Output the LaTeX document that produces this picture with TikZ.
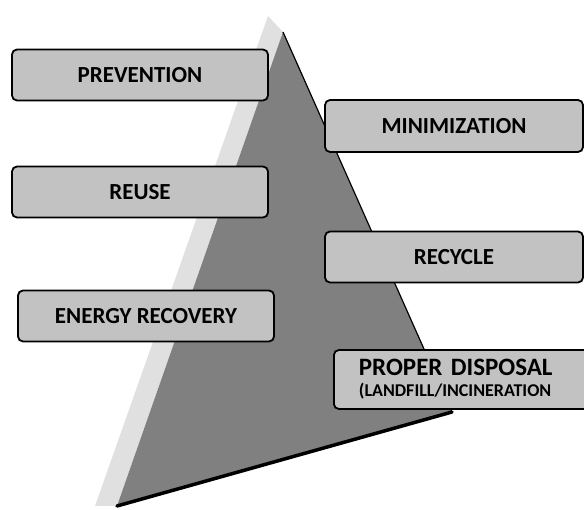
\documentclass[tikz,border=0pt]{standalone}
\usepackage{fontspec}
\setmainfont{Carlito}
\tikzset{
  stage/.style={draw=black, line width=1.8pt, rounded corners=5pt, fill=black!24,
    minimum width=256pt, minimum height=51pt, inner sep=0pt,
    font=\fontsize{23}{26}\selectfont\bfseries},
  face/.style={fill=black!50, draw=none}
}
\begin{document}
\begin{tikzpicture}[x=1pt,y=-1pt]
  \useasboundingbox (0,0) rectangle (584,510);
  % pyramid
  \fill[black!12] (268,16) -- (283,32) -- (117,506) -- (95,506) -- cycle;
  \fill[face] (283,32) -- (452,412) -- (117,506) -- cycle;
  \draw[line width=1.2pt] (283,32) -- (452,412);
  \draw[line width=3.5pt, line cap=round] (117,506) -- (452,412);
  % stages
  \node[stage] (prevention) at (140,75) {PREVENTION};
  \node[stage] (reuse) at (140,192) {REUSE};
  \node[stage] (energy) at (146,316) {ENERGY RECOVERY};
  \node[stage, minimum width=258pt, minimum height=52pt] (minimization) at (454,126) {MINIMIZATION};
  \node[stage, minimum width=258pt] (recycle) at (454,257) {RECYCLE};
  \node[stage, minimum width=0pt, minimum height=59pt, text width=230pt,
    inner xsep=25pt, align=left, anchor=west, font=\fontsize{25}{24}\selectfont\bfseries]
    (disposal) at (333,379.5)
    {\raisebox{-3pt}{PROPER DISPOSAL}\\{\fontsize{18}{20}\selectfont (LANDFILL/INCINERATION}};
\end{tikzpicture}
\end{document}
